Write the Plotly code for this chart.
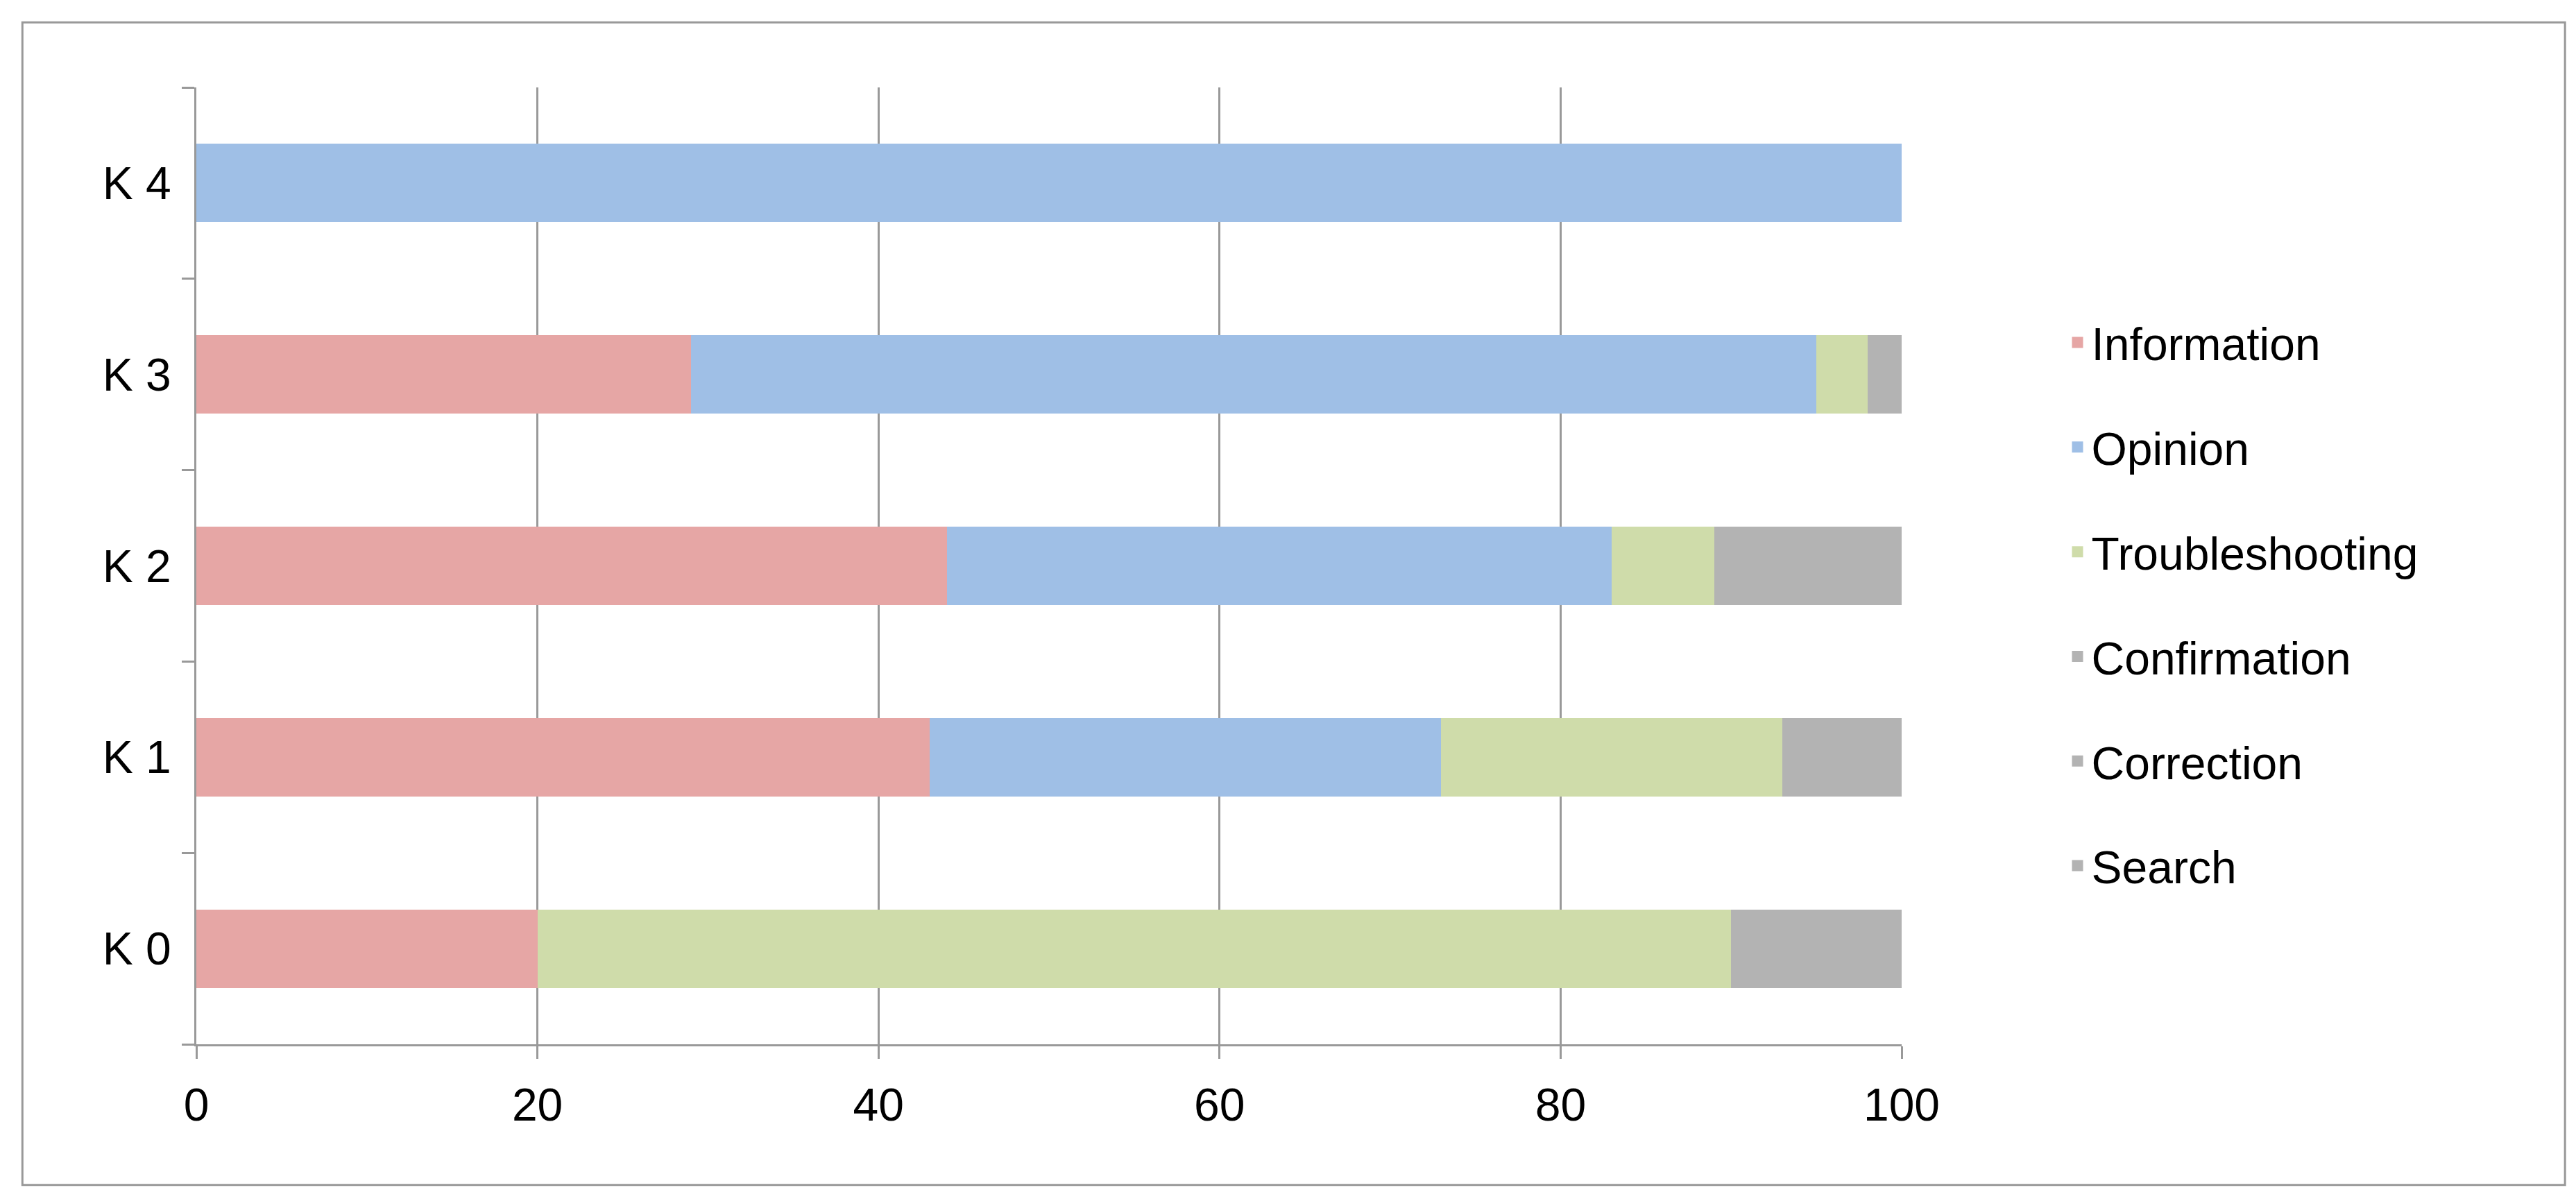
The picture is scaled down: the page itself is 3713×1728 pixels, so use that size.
import plotly.graph_objects as go

categories = ["K 0", "K 1", "K 2", "K 3", "K 4"]
information = [20, 43, 44, 29, 0]
opinion = [0, 30, 39, 66, 100]
troubleshooting = [70, 20, 6, 3, 0]
confirmation = [10, 7, 11, 2, 0]
correction = [0, 0, 0, 0, 0]
search = [0, 0, 0, 0, 0]
x_ticks = [0, 20, 40, 60, 80, 100]

series = [
    ("Information", information, "#e6a6a5"),
    ("Opinion", opinion, "#9fbfe6"),
    ("Troubleshooting", troubleshooting, "#cfdcaa"),
    ("Confirmation", confirmation, "#b3b3b3"),
    ("Correction", correction, "#b3b3b3"),
    ("Search", search, "#b3b3b3"),
]

fig = go.Figure()
for name, vals, col in series:
    fig.add_trace(go.Bar(y=categories, x=vals, name=name, orientation="h", showlegend=False,
                         marker=dict(color=col, line=dict(width=0)), width=0.41))
for name, vals, col in series:
    fig.add_trace(go.Scatter(x=[None], y=[None], mode="markers", name=name, legendgroup=name,
                             marker=dict(symbol="square", size=34, color=col)))

fig.update_layout(
    barmode="stack", width=3713, height=1728,
    paper_bgcolor="white", plot_bgcolor="white",
    font=dict(family="Liberation Sans, Arial", size=66, color="black"),
    margin=dict(l=275, r=980, t=118, b=231),
    legend=dict(traceorder="grouped", x=1.095, xanchor="left", y=0.46, yanchor="middle",
                font=dict(size=66), itemwidth=30, tracegroupgap=62),
    xaxis=dict(range=[0, 100], tickvals=x_ticks, showgrid=True, gridcolor="#999999", gridwidth=3,
               showline=True, linecolor="#999999", linewidth=3, ticks="outside", ticklen=18,
               tickcolor="#999999", tickwidth=3, zeroline=False, ticklabelstandoff=10),
    yaxis=dict(showline=True, linecolor="#999999", linewidth=3, ticks="outside", ticklen=18,
               tickcolor="#999999", tickwidth=3, tickson="boundaries", showgrid=False,
               ticklabelstandoff=20),
    shapes=[dict(type="rect", xref="paper", yref="paper", x0=-0.102, x1=1.389, y0=-0.147, y1=1.068,
                 line=dict(color="#999999", width=3))],
)
fig.write_html("out.html")
